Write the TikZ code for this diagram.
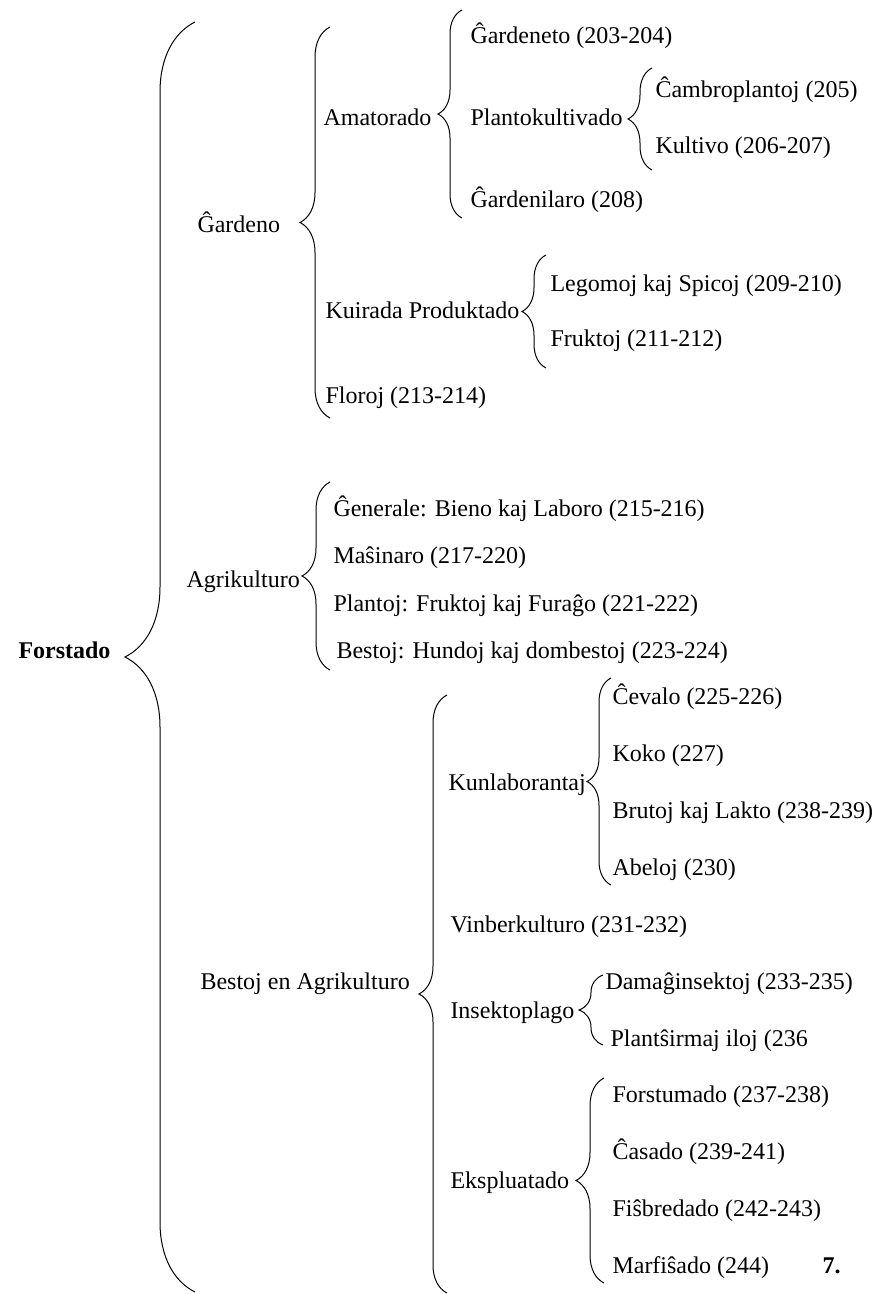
\documentclass[tikz,border=0pt]{standalone}
\usepackage{fontspec}
\setmainfont{Liberation Serif}
\usetikzlibrary{decorations.pathreplacing}

\begin{document}
\begin{tikzpicture}[x=0.5pt, y=-0.5pt, line width=0.5pt,
    voce/.style = {anchor=base west, inner sep=0pt, font=\fontsize{12}{14}\selectfont},
    titolo/.style = {voce, font=\fontsize{12}{14}\selectfont\bfseries},
    graffa/.style = {decorate, decoration={brace, amplitude=#1}}]
    \useasboundingbox (0,0) rectangle (879,1294);

    % Disegna le voci
    \node[titolo] (forstado) at (18,658) {Forstado};
    \node[voce] (gardeno) at (197,233) {Ĝardeno};
    \node[voce] (agrikulturo) at (186,587) {Agrikulturo};
    \node[voce] (bestojagr) at (200,989) {Bestoj en Agrikulturo};

    \node[voce] (amatorado) at (323,126) {Amatorado};
    \node[voce] (kuirada) at (325,319) {Kuirada Produktado};
    \node[voce] (floroj) at (325,403) {Floroj (213-214)};
    \node[voce] (gardeneto) at (470,44) {Ĝardeneto (203-204)};
    \node[voce] (plantokult) at (470,126) {Plantokultivado};
    \node[voce] (gardenilaro) at (470,208) {Ĝardenilaro (208)};
    \node[voce] (cambro) at (655,98) {Ĉambroplantoj (205)};
    \node[voce] (kultivo) at (655,154) {Kultivo (206-207)};
    \node[voce] (legomoj) at (550,292) {Legomoj kaj Spicoj (209-210)};
    \node[voce] (fruktoj) at (550,346) {Fruktoj (211-212)};

    \node[voce] (generale) at (333,516) {Ĝenerale: Bieno kaj Laboro (215-216)};
    \node[voce] (masinaro) at (333,563) {Maŝinaro (217-220)};
    \node[voce] (plantoj) at (333,611) {Plantoj: Fruktoj kaj Furaĝo (221-222)};
    \node[voce] (bestoj) at (336,658) {Bestoj: Hundoj kaj dombestoj (223-224)};

    \node[voce] (kunlab) at (448,790) {Kunlaborantaj};
    \node[voce] (vinber) at (450,932) {Vinberkulturo (231-232)};
    \node[voce] (insekto) at (450,1018) {Insektoplago};
    \node[voce] (ekspl) at (450,1188) {Ekspluatado};
    \node[voce] (cevalo) at (612,704) {Ĉevalo (225-226)};
    \node[voce] (koko) at (612,761) {Koko (227)};
    \node[voce] (brutoj) at (612,818) {Brutoj kaj Lakto (238-239)};
    \node[voce] (abeloj) at (612,875) {Abeloj (230)};
    \node[voce] (damag) at (605,989) {Damaĝinsektoj (233-235)};
    \node[voce] (plantsirm) at (610,1046) {Plantŝirmaj iloj (236};
    \node[voce] (forstum) at (612,1102) {Forstumado (237-238)};
    \node[voce] (casado) at (612,1159) {Ĉasado (239-241)};
    \node[voce] (fisbred) at (612,1216) {Fiŝbredado (242-243)};
    \node[voce] (marfis) at (612,1273) {Marfiŝado (244)};
    \node[titolo] (sep) at (822,1273) {7.};

    % Disegna le graffe
    \coordinate (forstadoA) at (195,1292);
    \coordinate (forstadoB) at (195,22);
    \coordinate (gardenoA) at (330,418);
    \coordinate (gardenoB) at (330,27);
    \coordinate (amatoradoA) at (462,218);
    \coordinate (amatoradoB) at (462,10);
    \coordinate (plantokultA) at (652,170);
    \coordinate (plantokultB) at (652,68);
    \coordinate (kuiradaA) at (546,368);
    \coordinate (kuiradaB) at (546,255);
    \coordinate (agrikulturoA) at (330,670);
    \coordinate (agrikulturoB) at (330,482);
    \coordinate (bestojagrA) at (447,1293);
    \coordinate (bestojagrB) at (447,695);
    \coordinate (kunlabA) at (611,885);
    \coordinate (kunlabB) at (611,678);
    \coordinate (insektoA) at (603,1045);
    \coordinate (insektoB) at (603,975);
    \coordinate (eksplA) at (604,1283);
    \coordinate (eksplB) at (604,1078);

    \draw[graffa=35pt] (forstadoA) -- (forstadoB);
    \draw[graffa=15pt] (gardenoA) -- (gardenoB);
    \draw[graffa=12pt] (amatoradoA) -- (amatoradoB);
    \draw[graffa=12pt] (plantokultA) -- (plantokultB);
    \draw[graffa=12pt] (kuiradaA) -- (kuiradaB);
    \draw[graffa=14pt] (agrikulturoA) -- (agrikulturoB);
    \draw[graffa=14pt] (bestojagrA) -- (bestojagrB);
    \draw[graffa=12pt] (kunlabA) -- (kunlabB);
    \draw[graffa=12pt] (insektoA) -- (insektoB);
    \draw[graffa=14pt] (eksplA) -- (eksplB);

\end{tikzpicture}
\end{document}
